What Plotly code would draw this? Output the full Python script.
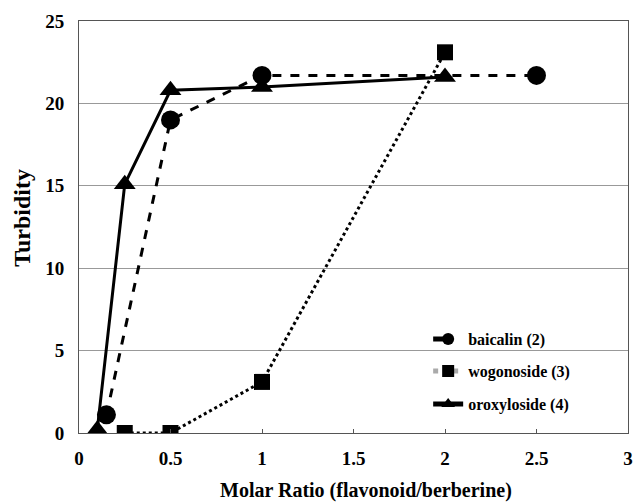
import plotly.graph_objects as go

# Data
baicalin_x = [0.15, 0.5, 1.0, 2.5]
baicalin_y = [1.1, 19.0, 21.7, 21.7]
wogonoside_x = [0.25, 0.5, 1.0, 2.0]
wogonoside_y = [0.0, 0.0, 3.1, 23.1]
oroxyloside_x = [0.1, 0.25, 0.5, 1.0, 2.0]
oroxyloside_y = [0.2, 15.1, 20.8, 21.0, 21.6]

x_ticks = [0, 0.5, 1, 1.5, 2, 2.5, 3]
y_ticks = [0, 5, 10, 15, 20, 25]

FONT = "Liberation Serif"

fig = go.Figure()
fig.add_trace(go.Scatter(
    x=wogonoside_x, y=wogonoside_y, mode="lines+markers", name="wogonoside (3)",
    line=dict(color="black", width=3, dash="dot"),
    marker=dict(symbol="square", size=16, color="black"), showlegend=False))
fig.add_trace(go.Scatter(
    x=baicalin_x, y=baicalin_y, mode="lines+markers", name="baicalin (2)",
    line=dict(color="black", width=3, dash="dash"),
    marker=dict(symbol="circle", size=19, color="black"), legend="legend"))
# legend-only entry for wogonoside (gray dotted legend line)
fig.add_trace(go.Scatter(
    x=[None], y=[None], mode="lines+markers", name="wogonoside (3)",
    line=dict(color="#aaaaaa", width=3, dash="dot"),
    marker=dict(symbol="square", size=12, color="black"), legend="legend2"))
fig.add_trace(go.Scatter(
    x=oroxyloside_x, y=oroxyloside_y, mode="lines+markers", name="oroxyloside (4)",
    line=dict(color="black", width=3),
    marker=dict(symbol="triangle-up", size=19, color="black"), legend="legend3"))

def leg(yv):
    return dict(x=0.636, y=yv, xanchor="left", yanchor="middle",
                bgcolor="rgba(0,0,0,0)", itemsizing="constant",
                font=dict(family=FONT, size=16, weight="bold"))

fig.update_layout(
    width=633, height=503,
    margin=dict(l=79, r=5, t=21, b=70, autoexpand=False),
    paper_bgcolor="white", plot_bgcolor="white",
    font=dict(family=FONT, color="black", size=17),
    showlegend=True,
    legend=leg(0.228), legend2=leg(0.150), legend3=leg(0.070),
    xaxis=dict(range=[0, 3], tickvals=x_ticks, ticktext=[str(v) for v in x_ticks],
               showgrid=False, zeroline=False, showline=True, linecolor="#555555",
               linewidth=1, mirror=True, ticks="inside", ticklen=4, tickcolor="#555555",
               ticklabelstandoff=8, automargin=False, ticklabeloverflow="allow",
               tickfont=dict(family=FONT, size=19, weight="bold")),
    yaxis=dict(range=[0, 25], tickvals=y_ticks, showgrid=True, gridcolor="#999999",
               gridwidth=1, zeroline=False, showline=True, linecolor="#555555",
               linewidth=1, mirror=True, ticks="", ticklabelstandoff=10,
               automargin=False, ticklabeloverflow="allow",
               tickfont=dict(family=FONT, size=19, weight="bold")),
    annotations=[
        dict(text="Molar Ratio (flavonoid/berberine)", xref="paper", yref="paper",
             x=0.523, y=-0.14, xanchor="center", yanchor="middle", showarrow=False,
             font=dict(family=FONT, size=20, weight="bold")),
        dict(text="Turbidity", xref="paper", yref="paper", textangle=-90,
             x=-0.104, y=0.522, xanchor="center", yanchor="middle", showarrow=False,
             font=dict(family=FONT, size=24, weight="bold")),
    ],
)

fig.write_html("out.html")
